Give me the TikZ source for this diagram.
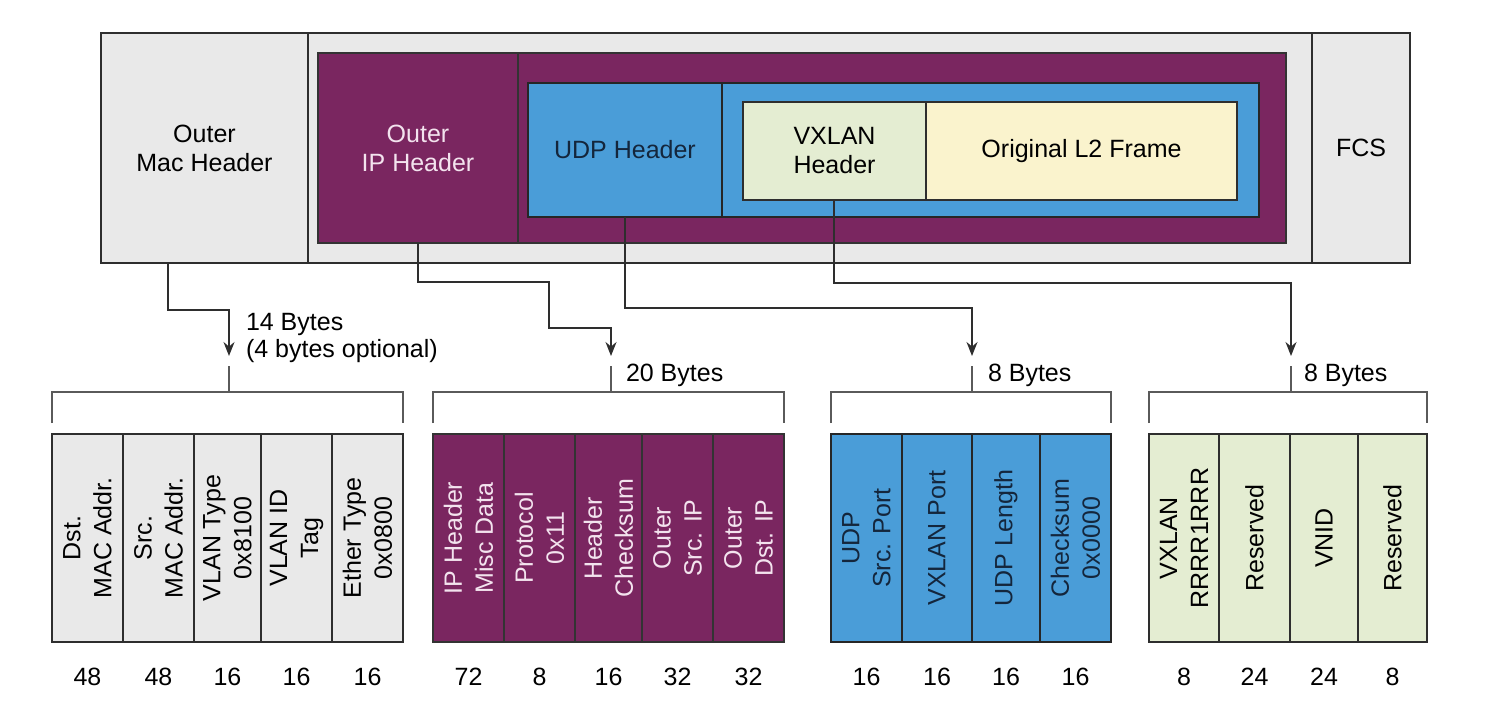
\documentclass[tikz,border=0pt]{standalone}
\usepackage{fontspec}
\setmainfont{Liberation Sans}
\usetikzlibrary{arrows.meta}
\definecolor{cgray}{HTML}{E9E9E9}
\definecolor{cpurp}{HTML}{7A2660}
\definecolor{cblue}{HTML}{4A9DD8}
\definecolor{cgreen}{HTML}{E4EDD2}
\definecolor{cyell}{HTML}{FAF3CD}
\definecolor{cline}{HTML}{2E2E2E}
\definecolor{cbrk}{HTML}{5A5A5A}
\definecolor{cpink}{HTML}{F3E3EE}
\definecolor{cnavy}{HTML}{14263C}
\newcommand\fcell[6]{%
  \node[#4, minimum width={#3-#2}, minimum height=208, anchor=north west] (#1) at (#2,434) {};
  \node[rotate=90, align=center, text=#5] at (#1.center) {#6};}
\begin{document}
\begin{tikzpicture}[x=1pt,y=-1pt,
  every node/.style={font=\fontsize{25}{29}\selectfont, inner sep=0pt, outer sep=0pt},
  box/.style={draw=cline, line width=1.6pt, rectangle},
  gbox/.style={box, fill=cgray},
  pbox/.style={box, fill=cpurp, draw=black!80},
  bbox/.style={box, fill=cblue, draw=black!85},
  vbox/.style={box, fill=cgreen},
  ybox/.style={box, fill=cyell},
  conn/.style={draw=cline, line width=1.6pt},
  arr/.style={conn, -{Stealth[length=14pt,width=11pt]}},
  brk/.style={draw=cbrk, line width=1.6pt},
  lbl/.style={anchor=west, align=left}
]
\useasboundingbox (0,0) rectangle (1490,716);

% ---- top frame ----
\node[gbox, anchor=north west, minimum width=1004, minimum height=230] (mid) at (308,33) {};
\node[gbox, anchor=north west, minimum width=207, minimum height=230, align=center] (mac) at (101,33) {Outer\\Mac Header};
\node[gbox, anchor=north west, minimum width=98, minimum height=230] (fcs) at (1312,33) {FCS};

\node[pbox, anchor=north west, minimum width=768, minimum height=190] (ipall) at (518,53) {};
\node[pbox, anchor=north west, minimum width=200, minimum height=190, align=center, text=cpink] (iph) at (318,53) {Outer\\IP Header};

\node[bbox, anchor=north west, minimum width=537, minimum height=134] (udpall) at (722,83) {};
\node[bbox, anchor=north west, minimum width=194, minimum height=134, text=cnavy] (udph) at (528,83) {UDP Header};

\node[vbox, anchor=north west, minimum width=183, minimum height=98, align=center] (vxh) at (743,102) {VXLAN\\Header};
\node[ybox, anchor=north west, minimum width=311, minimum height=98] (orig) at (926,102) {Original L2 Frame};

% ---- connector end points ----
\coordinate (t1) at (229,356);
\coordinate (t2) at (611,356);
\coordinate (t3) at (972,356);
\coordinate (t4) at (1291,356);

\draw[arr] (mac.south -| 168,0) |- (229,310) -- (t1);
\draw[arr] (iph.south -| 418,0) |- (549,282) |- (611,328) -- (t2);
\draw[arr] (udph.south -| 625,0) |- (972,308) -- (t3);
\draw[arr] (vxh.south -| 834,0) |- (1291,283) -- (t4);

% ---- labels ----
\node[lbl] (l1) at (246,324) {14 Bytes};
\node[lbl] (l1b) at (246,351) {(4 bytes optional)};
\node[lbl] (l2) at (626,375) {20 Bytes};
\node[lbl] (l3) at (988,375) {8 Bytes};
\node[lbl] (l4) at (1304,375) {8 Bytes};

% ---- brackets ----
\draw[brk] (229,366) -- (229,392);
\draw[brk] (52,423) |- (403,392) -- (403,423);
\draw[brk] (611,366) -- (611,392);
\draw[brk] (433,423) |- (784,392) -- (784,423);
\draw[brk] (972,366) -- (972,392);
\draw[brk] (831,423) |- (1111,392) -- (1111,423);
\draw[brk] (1291,366) -- (1291,392);
\draw[brk] (1149,423) |- (1427,392) -- (1427,423);

% ---- field cells ----
\tikzset{every node/.append style={font=\fontsize{25}{31}\selectfont}}
\fcell{m1}{52}{123}{gbox}{black}{Dst.\\MAC Addr.}
\fcell{m2}{123}{194}{gbox}{black}{Src.\\MAC Addr.}
\fcell{m3}{194}{261}{gbox}{black}{VLAN Type\\0x8100}
\fcell{m4}{261}{332}{gbox}{black}{VLAN ID\\Tag}
\fcell{m5}{332}{403}{gbox}{black}{Ether Type\\0x0800}

\fcell{i1}{433}{504}{pbox}{cpink}{IP Header\\Misc Data}
\fcell{i2}{504}{575}{pbox}{cpink}{Protocol\\0x11}
\fcell{i3}{575}{642}{pbox}{cpink}{Header\\Checksum}
\fcell{i4}{642}{713}{pbox}{cpink}{Outer\\Src. IP}
\fcell{i5}{713}{784}{pbox}{cpink}{Outer\\Dst. IP}

\fcell{u1}{831}{902}{bbox}{cnavy}{UDP\\Src. Port}
\fcell{u2}{902}{972}{bbox}{cnavy}{VXLAN Port}
\fcell{u3}{972}{1040}{bbox}{cnavy}{UDP Length}
\fcell{u4}{1040}{1111}{bbox}{cnavy}{Checksum\\0x0000}

\fcell{v1}{1149}{1219}{vbox}{black}{VXLAN\\RRRR1RRR}
\fcell{v2}{1219}{1290}{vbox}{black}{Reserved}
\fcell{v3}{1290}{1358}{vbox}{black}{VNID}
\fcell{v4}{1358}{1427}{vbox}{black}{Reserved}

% ---- bit counts ----
\foreach \n/\t in {m1/48,m2/48,m3/16,m4/16,m5/16,i1/72,i2/8,i3/16,i4/32,i5/32,u1/16,u2/16,u3/16,u4/16,v1/8,v2/24,v3/24,v4/8}
  \node (n\n) at (\n.center |- 0,677) {\t};
\end{tikzpicture}
\end{document}
